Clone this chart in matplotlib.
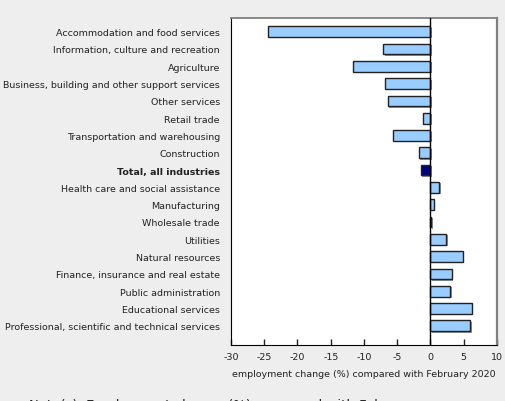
import matplotlib.pyplot as plt
import matplotlib.patheffects as pe

# Industries, top to bottom as shown
industries = [
    "Accommodation and food services",
    "Information, culture and recreation",
    "Agriculture",
    "Business, building and other support services",
    "Other services",
    "Retail trade",
    "Transportation and warehousing",
    "Construction",
    "Total, all industries",
    "Health care and social assistance",
    "Manufacturing",
    "Wholesale trade",
    "Utilities",
    "Natural resources",
    "Finance, insurance and real estate",
    "Public administration",
    "Educational services",
    "Professional, scientific and technical services",
]
# employment change (%) compared with February 2020
change = [-24.4, -7.1, -11.6, -6.8, -6.4, -1.2, -5.6, -1.8, -1.5,
          1.3, 0.5, 0.15, 2.4, 4.9, 3.2, 3.0, 6.2, 6.0]
total_label = "Total, all industries"

x_ticks = [-30, -25, -20, -15, -10, -5, 0, 5, 10]
x_label = "employment change (%) compared with February 2020"
note = "Note(s): Employment change (%) compared with February"

BG = "#eeeeee"
BAR = "#99ccff"
TOTAL = "#000080"
FS = 6.8

fig = plt.figure(figsize=(5.06, 4.02), dpi=100, facecolor=BG)
ax = fig.add_axes([0.4565, 0.1393, 0.5257, 0.8134])
ax.set_facecolor("white")

ypos = list(range(len(industries)))
colors = [TOTAL if name == total_label else BAR for name in industries]
bars = ax.barh(ypos, change, height=0.62, color=colors, edgecolor="#222222", linewidth=1, zorder=2)
for b in bars:
    b.set_path_effects([pe.SimplePatchShadow(offset=(1, -1), shadow_rgbFace="#777777", alpha=0.8), pe.Normal()])

ax.axvline(0, color="black", linewidth=1, zorder=3)

ax.set_xlim(-30, 10)
ax.set_ylim(len(industries) - 1 + 1.11, -0.79)
ax.set_xticks(x_ticks)
ax.set_xticklabels([str(t) for t in x_ticks], fontsize=FS)
ax.tick_params(axis="x", direction="in", length=4, width=1, pad=5, colors="#222222")
ax.set_yticks(ypos)
ax.set_yticklabels(industries, fontsize=FS)
ax.tick_params(axis="y", length=0, pad=8, colors="#222222")
for lbl in ax.get_yticklabels():
    if lbl.get_text() == total_label:
        lbl.set_fontweight("bold")
ax.set_xlabel(x_label, fontsize=FS, labelpad=6, color="#222222")

ax.spines["left"].set_color("black")
ax.spines["bottom"].set_color("black")
ax.spines["top"].set_color("#808080")
ax.spines["right"].set_color("#808080")
ax.spines["right"].set_linewidth(1.6)
ax.spines["top"].set_linewidth(1.3)

# footnote, mostly cut off by the bottom edge as in the source
fig.text(0.057, -0.0185, note, fontsize=9.5, va="baseline", ha="left", color="#222222")

fig.savefig("out.png", dpi=100, facecolor=BG)
